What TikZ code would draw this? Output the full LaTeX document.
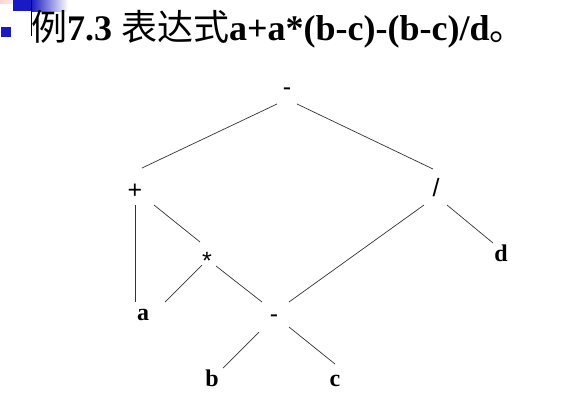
\documentclass[tikz,border=0pt]{standalone}
\usepackage{fontspec}
\setmainfont{Liberation Serif}
\newfontfamily\cjk{Noto Sans CJK SC}
\newfontfamily\arialf{Liberation Sans}
\begin{document}
\begin{tikzpicture}[x=1pt,y=-1pt,
  edge/.style={line width=0.7pt, draw=black!80},
  opnode/.style={font=\arialf\fontsize{25}{25}\selectfont, inner sep=0},
  leafnode/.style={font=\bfseries\fontsize{24}{24}\selectfont, inner sep=0}]
\useasboundingbox[fill=white] (0,0) rectangle (572,410);
% decoration
\shade[left color=pink!70, right color=white] (0,0) rectangle (25,3.5);
\fill[blue!75!black!90] (13,0) rectangle (31,11);
\shade[left color=blue!75!black!90, right color=white] (31,0) rectangle (68,11);
\draw[line width=1pt] (31.5,0) -- (31.5,36);
\fill[blue!75!black!90] (1,27) rectangle (11,37);
% title
\node[anchor=base west, inner sep=0] (title) at (31,40.5)
  {\fontsize{36}{36}\selectfont{\cjk 例}\textbf{7.3} {\cjk 表达式}\textbf{a+a*(b-c)-(b-c)/d}{\cjk 。}};
% nodes
\node[opnode] (root) at (287,92) {-};
\node[opnode] (plus) at (135,191) {+};
\node[opnode] (div) at (436,188) {/};
\node[opnode] (mul) at (207,261) {*};
\node[opnode] (sub) at (274,319) {-};
\node[leafnode] (a) at (143,315) {a};
\node[leafnode] (b) at (212,378) {b};
\node[leafnode] (c) at (335,381) {c};
\node[leafnode] (d) at (501,253) {d};
% connector endpoints
\coordinate (r1) at (277,104); \coordinate (p1) at (142,168);
\coordinate (r2) at (297,104); \coordinate (v1) at (433,169);
\coordinate (p2) at (135,205); \coordinate (a1) at (135,302);
\coordinate (p3) at (154,205); \coordinate (m1) at (200,242);
\coordinate (m2) at (202,265); \coordinate (a2) at (165,302);
\coordinate (m3) at (216,266); \coordinate (s1) at (262,302);
\coordinate (v2) at (424,205); \coordinate (s2) at (289,302);
\coordinate (v3) at (447,205); \coordinate (d1) at (493,243);
\coordinate (s3) at (259,332); \coordinate (b1) at (223,368);
\coordinate (s4) at (289,327); \coordinate (c1) at (335,364);
\draw[edge] (r1) -- (p1);
\draw[edge] (r2) -- (v1);
\draw[edge] (p2) -- (a1);
\draw[edge] (p3) -- (m1);
\draw[edge] (m2) -- (a2);
\draw[edge] (m3) -- (s1);
\draw[edge] (v2) -- (s2);
\draw[edge] (v3) -- (d1);
\draw[edge] (s3) -- (b1);
\draw[edge] (s4) -- (c1);
\end{tikzpicture}
\end{document}
